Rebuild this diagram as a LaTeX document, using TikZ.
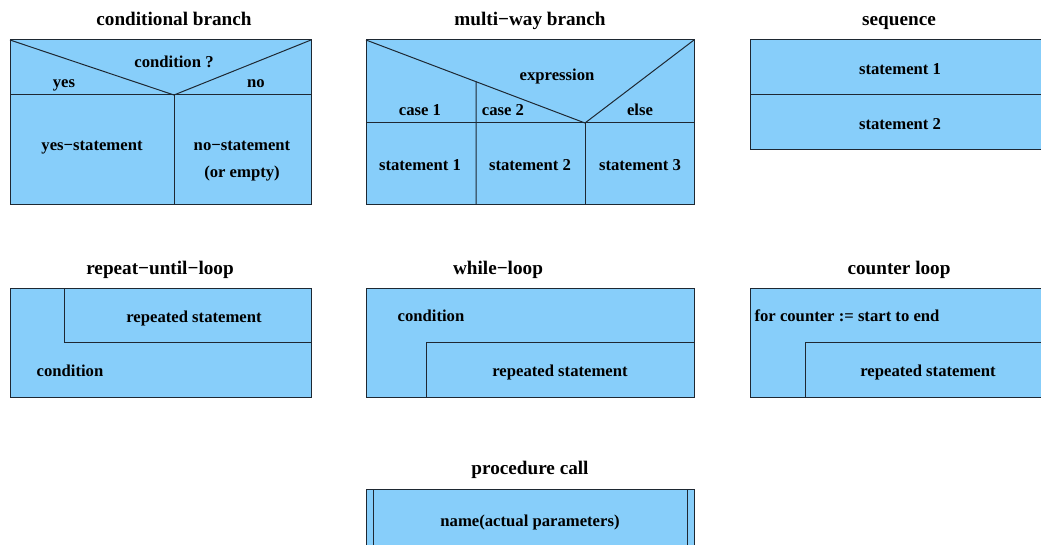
\documentclass[tikz,border=0pt]{standalone}
\usepackage{fontspec}
\setmainfont{Liberation Serif}
\usepackage{xcolor}
\usepackage{tikz}
\usetikzlibrary{positioning,calc}

\definecolor{boxfill}{RGB}{135,206,250}
\definecolor{boxline}{RGB}{30,40,50}

\tikzset{
    blk/.style={fill=boxfill, draw=boxline, line width=0.75pt},
    sep/.style={draw=boxline, line width=0.75pt},
    ttl/.style={font=\bfseries\fontsize{14.4}{16}\selectfont, inner sep=0pt, anchor=base},
    lbl/.style={font=\bfseries\fontsize{12.5}{14}\selectfont, inner sep=0pt, anchor=base}
}

\begin{document}
\begin{tikzpicture}[x=0.75pt, y=-0.75pt]
    \useasboundingbox (0,0) rectangle (1041,545);
    \clip (0,0) rectangle (1041,545);

    % Conditional branch
    \node[ttl] (tcond) at (174,26) {conditional branch};
    \draw[blk] (10,40) rectangle (311,205);
    \coordinate (cv) at (174,95);
    \draw[sep] (10,95) -- (311,95);
    \draw[sep] (10,40) -- (cv) -- (311,40);
    \draw[sep] (cv) -- (174,205);
    \node[lbl] (ccond) at (174,68) {condition ?};
    \node[lbl] (cyes) at (64,88) {yes};
    \node[lbl] (cno) at (256,88) {no};
    \node[lbl] (cyst) at (92,151) {yes−statement};
    \node[lbl] (cnst) at (242,151) {no−statement};
    \node[lbl] (cempty) at (242,178) {(or empty)};

    % Multi-way branch
    \node[ttl] (tmulti) at (530,26) {multi−way branch};
    \draw[blk] (366,40) rectangle (694,205);
    \coordinate (mv) at (585,123);
    \draw[sep] (366,123) -- (694,123);
    \draw[sep] (366,40) -- (mv) -- (694,40);
    \draw[sep] ($(366,40)!0.5023!(mv)$) -- (476,205);
    \draw[sep] (mv) -- (585,205);
    \node[lbl] (mexpr) at (557,81) {expression};
    \node[lbl] (mc1) at (420,115.5) {case 1};
    \node[lbl] (mc2) at (503,115.5) {case 2};
    \node[lbl] (melse) at (640,115.5) {else};
    \foreach \x/\n in {420/1, 530/2, 640/3}
        \node[lbl] (mst\n) at (\x,171) {statement \n};

    % Sequence
    \node[ttl] (tseq) at (899,26) {sequence};
    \draw[blk] (750,40) rectangle (1051,150);
    \draw[sep] (750,95) -- (1051,95);
    \node[lbl] (sst1) at (900,74.5) {statement 1};
    \node[lbl] (sst2) at (900,129.5) {statement 2};

    % Repeat-until loop
    \node[ttl] (trep) at (160,274) {repeat−until−loop};
    \draw[blk] (10,288) rectangle (311,397);
    \draw[blk] (64,288) rectangle (311,342);
    \node[lbl] (rbody) at (194,322) {repeated statement};
    \node[lbl] (rcond) at (70,376.5) {condition};

    % While loop
    \node[ttl] (twhile) at (498,274) {while−loop};
    \draw[blk] (366,288) rectangle (694,397);
    \draw[blk] (426,342) rectangle (694,397);
    \node[lbl] (wcond) at (431,321) {condition};
    \node[lbl] (wbody) at (560,376.5) {repeated statement};

    % Counter loop
    \node[ttl] (tcount) at (899,274) {counter loop};
    \draw[blk] (750,288) rectangle (1051,397);
    \draw[blk] (805,342) rectangle (1051,397);
    \node[lbl] (khead) at (847,321) {for counter := start to end};
    \node[lbl] (kbody) at (928,376.5) {repeated statement};

    % Procedure call
    \node[ttl] (tproc) at (530,474) {procedure call};
    \draw[blk] (366,489) rectangle (694,560);
    \draw[sep] (373,489) -- (373,560);
    \draw[sep] (687,489) -- (687,560);
    \node[lbl] (pcall) at (530,526) {name(actual parameters)};
\end{tikzpicture}
\end{document}
